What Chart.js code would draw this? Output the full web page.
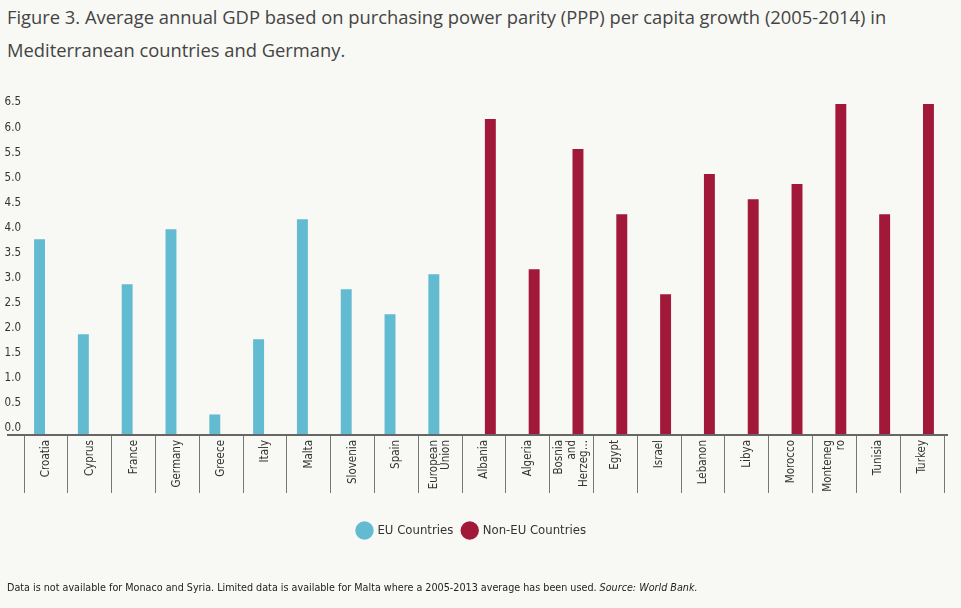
<!DOCTYPE html>
<html>
<head>
<meta charset="utf-8">
<script src="https://cdn.jsdelivr.net/npm/chart.js@4/dist/chart.umd.min.js"></script>
<style>
    body { margin: 0; background: #f8f8f5; }
    #wrap { position: relative; width: 961px; height: 608px; }
    #title {
        position: absolute; left: 7px; top: 1px; width: 955px;
        font-family: 'Open Sans', sans-serif; font-size: 18.35px; line-height: 32.5px; color: #444;
        white-space: nowrap;
    }
    #note {
        position: absolute; left: 7px; top: 581px;
        font-family: 'Liberation Sans Narrow', 'DejaVu Sans Condensed', sans-serif; font-size: 10.7px; color: #222;
        white-space: nowrap;
    }
    canvas { position: absolute; left: 0; top: 0; }
</style>
</head>
<body>
<div id="wrap">
    <div id="title">Figure 3. Average annual GDP based on purchasing power parity (PPP) per capita growth (2005-2014) in<br>Mediterranean countries and Germany.</div>
    <canvas id="gdpChart" width="961" height="608"></canvas>
    <div id="note">Data is not available for Monaco and Syria. Limited data is available for Malta where a 2005-2013 average has been used. <i>Source: World Bank.</i></div>
</div>
<script>
// Категории (страны)
const countries = [
    'Croatia', 'Cyprus', 'France', 'Germany', 'Greece', 'Italy', 'Malta', 'Slovenia', 'Spain',
    ['European', 'Union'], 'Albania', 'Algeria', ['Bosnia', 'and', 'Herzeg…'], 'Egypt', 'Israel',
    'Lebanon', 'Libya', 'Morocco', ['Monteneg', 'ro'], 'Tunisia', 'Turkey'
];

// Страны ЕС
const euValues = [3.8, 1.9, 2.9, 4.0, 0.3, 1.8, 4.2, 2.8, 2.3, 3.1,
    null, null, null, null, null, null, null, null, null, null, null];

// Страны вне ЕС
const nonEuValues = [null, null, null, null, null, null, null, null, null, null,
    6.2, 3.2, 5.6, 4.3, 2.7, 5.1, 4.6, 4.9, 6.5, 4.3, 6.5];

const yTicks = [0, 0.5, 1, 1.5, 2, 2.5, 3, 3.5, 4, 4.5, 5, 5.5, 6, 6.5];
const yMin = -0.11;
const yMax = 6.5;

Chart.defaults.font.family = "'Liberation Sans Narrow', 'DejaVu Sans Condensed', sans-serif";
Chart.defaults.color = '#333';

// линия оси X от самого левого края
const axisLine = {
    id: 'axisLine',
    afterDraw(chart) {
        const c = chart.ctx;
        const area = chart.chartArea;
        c.save();
        c.strokeStyle = '#666';
        c.lineWidth = 2;
        c.beginPath();
        c.moveTo(7, area.bottom);
        c.lineTo(area.right + 4, area.bottom);
        c.stroke();
        c.restore();
    }
};

// многострочные подписи по центру категории
const centerLabels = {
    id: 'centerLabels',
    beforeDraw(chart) {
        const scale = chart.scales.x;
        scale.getLabelItems(chart.chartArea).forEach(item => {
            if (Array.isArray(item.label) && !item.shifted) {
                item.options.translation[0] -= (item.label.length - 1) * item.font.lineHeight / 2;
                item.shifted = true;
            }
        });
    }
};

new Chart(document.getElementById('gdpChart'), {
    type: 'bar',
    data: {
        labels: countries,
        datasets: [
            {
                label: 'EU Countries',
                data: euValues,
                backgroundColor: '#62bbd0',
                base: yMin,
                categoryPercentage: 0.58,
                barPercentage: 0.86
            },
            {
                label: 'Non-EU Countries',
                data: nonEuValues,
                backgroundColor: '#a21838',
                base: yMin,
                categoryPercentage: 0.58,
                barPercentage: 0.86
            }
        ]
    },
    options: {
        responsive: false,
        animation: false,
        layout: { padding: { left: 0, right: 17, top: 104, bottom: 61 } },
        scales: {
            x: {
                grid: {
                    drawOnChartArea: false,
                    drawTicks: true,
                    tickLength: 58,
                    color: '#777',
                    offset: true
                },
                border: { display: false },
                ticks: {
                    maxRotation: 90,
                    minRotation: 90,
                    autoSkip: false,
                    padding: -53,
                    font: { size: 11.5, lineHeight: 1.1 },
                    color: '#333'
                },
                afterFit(scale) { scale.height = 79; }
            },
            y: {
                min: yMin,
                max: yMax,
                grid: { display: false, drawTicks: false },
                border: { display: false },
                afterBuildTicks(scale) { scale.ticks = yTicks.map(v => ({ value: v })); },
                afterFit(scale) { scale.width = 24; },
                ticks: {
                    padding: 3,
                    labelOffset: -1.5,
                    font: { size: 11.5 },
                    color: '#333',
                    callback: v => Number(v).toFixed(1)
                }
            }
        },
        plugins: {
            legend: {
                position: 'bottom',
                labels: {
                    usePointStyle: true,
                    pointStyle: 'circle',
                    boxWidth: 15,
                    boxHeight: 15,
                    padding: 10,
                    font: { size: 13 },
                    color: '#333'
                }
            },
            tooltip: { enabled: false }
        }
    },
    plugins: [axisLine, centerLabels]
});
</script>
</body>
</html>
